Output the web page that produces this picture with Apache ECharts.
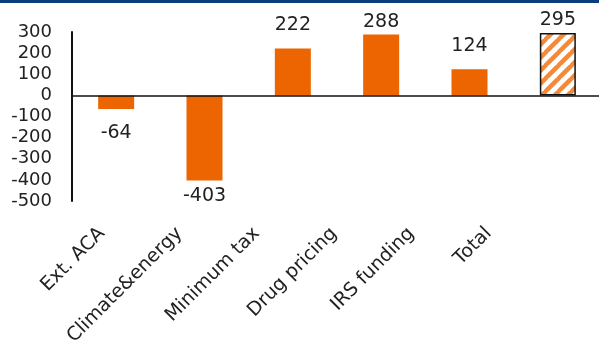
<!DOCTYPE html>
<html>
<head>
<meta charset="utf-8">
<script src="https://cdn.jsdelivr.net/npm/echarts@6/dist/echarts.min.js"></script>
<style>
html, body { margin: 0; padding: 0; background: #fff; }
#container { width: 599px; height: 345px; }
</style>
</head>
<body>
<div id="container"></div>
<script>
var categories = ['Ext. ACA', 'Climate&energy', 'Minimum tax', 'Drug pricing', 'IRS funding', 'Total'];
var values = [-64, -403, 222, 288, 124, 295];
var yTicks = [-500, -400, -300, -200, -100, 0, 100, 200, 300];

function stripePattern() {
    var s = 13;
    var c = document.createElement('canvas');
    c.width = s;
    c.height = s;
    var ctx = c.getContext('2d');
    ctx.fillStyle = '#ffffff';
    ctx.fillRect(0, 0, s, s);
    ctx.strokeStyle = '#F28A3A';
    ctx.lineWidth = 4.5;
    ctx.beginPath();
    for (var k = 0; k <= 2 * s; k += s) {
        ctx.moveTo(k - s - 1, s + 1);
        ctx.lineTo(k + 1, -1);
    }
    ctx.stroke();
    return c;
}

function printChart() {
    var dom = document.getElementById('container');
    var myChart = echarts.init(dom);
    var last = categories.length - 1;
    var pattern = stripePattern();

    var barData = values.map(function (v, i) {
        var big = Math.abs(v) > 250;
        var item = {
            value: v,
            label: {
                position: v < 0 ? 'bottom' : 'top',
                distance: big ? (v < 0 ? 6 : 3) : (v < 0 ? 15 : 14)
            }
        };
        if (i === last) {
            item.itemStyle = {
                color: { image: pattern, repeat: 'repeat' },
                borderColor: '#111',
                borderWidth: 1.5
            };
        }
        return item;
    });

    var option = {
        animation: false,
        backgroundColor: '#ffffff',
        textStyle: { fontFamily: 'DejaVu Sans' },
        graphic: [{
            type: 'rect',
            shape: { x: 0, y: 0, width: 599, height: 3 },
            style: { fill: '#0B3D7C' }
        }],
        grid: [{
            left: 72,
            right: -3,
            top: 32,
            bottom: 144,
            containLabel: false,
            outerBoundsMode: 'none'
        }, {
            // the category names sit on a tighter spacing than the bars
            left: 74,
            width: 464,
            top: 32,
            bottom: 144,
            containLabel: false,
            outerBoundsMode: 'none'
        }],
        xAxis: [{
            type: 'category',
            gridIndex: 0,
            data: categories,
            axisLine: { show: false, onZero: false },
            axisTick: { show: false },
            axisLabel: { show: false }
        }, {
            type: 'category',
            gridIndex: 1,
            data: categories,
            position: 'bottom',
            axisLine: { show: false, onZero: false },
            axisTick: { show: false },
            axisLabel: {
                rotate: 45,
                margin: 19,
                padding: [0, 15, 0, 0],
                fontSize: 19,
                color: '#222'
            }
        }],
        yAxis: [{
            type: 'value',
            gridIndex: 0,
            min: yTicks[0],
            max: yTicks[yTicks.length - 1],
            interval: 100,
            splitLine: { show: false },
            axisTick: { show: false },
            axisLine: { show: true, lineStyle: { color: '#111', width: 2 } },
            axisLabel: {
                margin: 20,
                fontSize: 18,
                color: '#222'
            }
        }, {
            type: 'value',
            gridIndex: 1,
            min: yTicks[0],
            max: yTicks[yTicks.length - 1],
            show: false
        }],
        series: [{
            type: 'bar',
            barWidth: 36,
            data: barData,
            itemStyle: { color: '#EC6500' },
            label: {
                show: true,
                fontSize: 19,
                color: '#222'
            },
            markLine: {
                silent: true,
                symbol: 'none',
                label: { show: false },
                lineStyle: { color: '#111', width: 1.5, type: 'solid' },
                data: [{ yAxis: 0 }]
            }
        }]
    };
    myChart.setOption(option, true);
}

printChart();
</script>
</body>
</html>
